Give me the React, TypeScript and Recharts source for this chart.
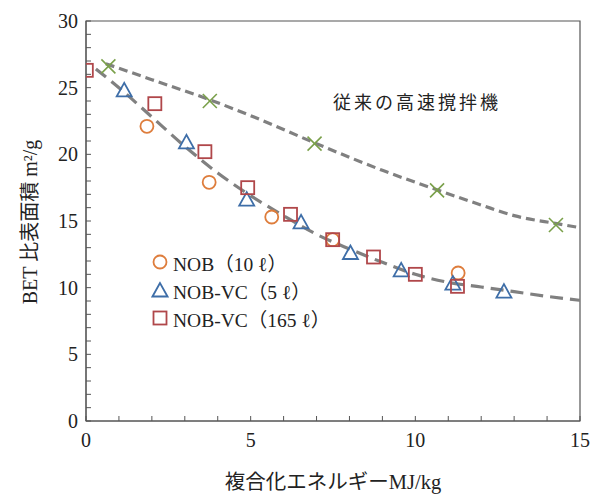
import { ComposedChart, Line, Scatter, XAxis, YAxis, ReferenceArea } from 'recharts';

// 従来の高速撹拌機 (×)
const conventional = [
  { x: 0.68, y: 26.6 },
  { x: 3.76, y: 24.0 },
  { x: 6.94, y: 20.8 },
  { x: 10.66, y: 17.3 },
  { x: 14.27, y: 14.7 },
];

// NOB (10 ℓ)
const nob10 = [
  { x: 1.85, y: 22.1 },
  { x: 3.74, y: 17.9 },
  { x: 5.64, y: 15.3 },
  { x: 7.49, y: 13.6 },
  { x: 11.3, y: 11.1 },
];

// NOB-VC (5 ℓ)
const nobVc5 = [
  { x: 1.16, y: 24.8 },
  { x: 3.05, y: 20.9 },
  { x: 4.88, y: 16.6 },
  { x: 6.53, y: 14.9 },
  { x: 8.03, y: 12.6 },
  { x: 9.57, y: 11.3 },
  { x: 11.14, y: 10.3 },
  { x: 12.69, y: 9.7 },
];

// NOB-VC (165 ℓ)
const nobVc165 = [
  { x: 0.01, y: 26.3 },
  { x: 2.09, y: 23.8 },
  { x: 3.61, y: 20.2 },
  { x: 4.91, y: 17.5 },
  { x: 6.21, y: 15.5 },
  { x: 7.49, y: 13.6 },
  { x: 8.73, y: 12.3 },
  { x: 10.0, y: 11.0 },
  { x: 11.28, y: 10.1 },
];

// dashed trend curves
const upperCurve = [
  { x: 0.6, y: 26.8 },
  { x: 2, y: 25.6 },
  { x: 3.75, y: 24.1 },
  { x: 5, y: 22.9 },
  { x: 7, y: 20.8 },
  { x: 9, y: 18.8 },
  { x: 10.7, y: 17.3 },
  { x: 12, y: 16.2 },
  { x: 13, y: 15.4 },
  { x: 14.3, y: 14.8 },
  { x: 15, y: 14.5 },
];

const lowerCurve = [
  { x: 0.3, y: 26.4 },
  { x: 1, y: 25.0 },
  { x: 2, y: 22.8 },
  { x: 3, y: 20.6 },
  { x: 4, y: 18.6 },
  { x: 5, y: 16.9 },
  { x: 6, y: 15.4 },
  { x: 7, y: 14.0 },
  { x: 8, y: 12.9 },
  { x: 9, y: 11.9 },
  { x: 10, y: 11.0 },
  { x: 11, y: 10.4 },
  { x: 12, y: 10.05 },
  { x: 13, y: 9.7 },
  { x: 14, y: 9.35 },
  { x: 15, y: 9.05 },
];

const xTicks = [0, 1, 2, 3, 4, 5, 6, 7, 8, 9, 10, 11, 12, 13, 14, 15];
const yTicks = [
  0, 1, 2, 3, 4, 5, 6, 7, 8, 9, 10, 11, 12, 13, 14, 15, 16, 17, 18, 19, 20, 21, 22, 23, 24, 25, 26, 27, 28, 29, 30,
];

const legendItems = [
  { label: 'NOB（10 ℓ）', shape: 'circle' },
  { label: 'NOB-VC（5 ℓ）', shape: 'triangle' },
  { label: 'NOB-VC（165 ℓ）', shape: 'square' },
];

const ORANGE = '#de7d3c';
const BLUE = '#3e6ea8';
const RED = '#b0474a';
const GREEN = '#7aa04a';
const AXIS = '#555';
const SERIF = '"Liberation Serif", "Noto Sans CJK JP", serif';

const CircleDot = (p: any) => (
  <circle cx={p.cx} cy={p.cy} r={6.5} fill="none" stroke={ORANGE} strokeWidth={1.8} />
);
const TriangleDot = (p: any) => (
  <polygon
    points={`${p.cx},${p.cy - 7.5} ${p.cx - 7.5},${p.cy + 6} ${p.cx + 7.5},${p.cy + 6}`}
    fill="none"
    stroke={BLUE}
    strokeWidth={1.8}
  />
);
const SquareDot = (p: any) => (
  <rect x={p.cx - 6.5} y={p.cy - 6.5} width={13} height={13} fill="none" stroke={RED} strokeWidth={1.8} />
);
const CrossDot = (p: any) => (
  <g stroke={GREEN} strokeWidth={1.6}>
    <line x1={p.cx - 7} y1={p.cy - 7} x2={p.cx + 7} y2={p.cy + 7} />
    <line x1={p.cx - 7} y1={p.cy + 7} x2={p.cx + 7} y2={p.cy - 7} />
  </g>
);

const XTick = ({ x, y, payload }: any) => (
  <g>
    <line x1={x} x2={x} y1={y} y2={y - 5} stroke={AXIS} />
    {payload.value % 5 === 0 && (
      <text x={x} y={y + 26} textAnchor="middle" fontSize={20} fontFamily={SERIF} fill="#222">
        {payload.value}
      </text>
    )}
  </g>
);

const YTick = ({ x, y, payload }: any) => (
  <g>
    <line x1={x} x2={x + 5} y1={y} y2={y} stroke={AXIS} />
    {payload.value % 5 === 0 && (
      <text x={x - 8} y={y + 7} textAnchor="end" fontSize={20} fontFamily={SERIF} fill="#222">
        {payload.value}
      </text>
    )}
  </g>
);

function LegendIcon({ shape }: { shape: string }) {
  return (
    <svg width={18} height={18} style={{ marginRight: 4 }}>
      {shape === 'circle' && <CircleDot cx={9} cy={9} />}
      {shape === 'triangle' && <TriangleDot cx={9} cy={9.5} />}
      {shape === 'square' && <SquareDot cx={9} cy={9} />}
    </svg>
  );
}

export default function App() {
  return (
    <div style={{ position: 'absolute', left: 0, top: 0, width: 592, height: 496, background: '#fff' }}>
      <ComposedChart width={592} height={496} margin={{ top: 21, right: 12, bottom: 0, left: 0 }}>
        <XAxis
          type="number"
          dataKey="x"
          domain={[0, 15]}
          ticks={xTicks}
          interval={0}
          tickSize={0}
          tickMargin={0}
          tickLine={false}
          tick={<XTick />}
          height={75}
          stroke={AXIS}
          allowDataOverflow
          label={{
            content: ({ viewBox }: any) => (
              <text
                x={viewBox.x + viewBox.width / 2}
                y={489}
                textAnchor="middle"
                fontSize={20.5}
                fontFamily={SERIF}
                fill="#222"
              >
                複合化エネルギーMJ/kg
              </text>
            ),
          }}
        />
        <YAxis
          type="number"
          dataKey="y"
          domain={[0, 30]}
          ticks={yTicks}
          interval={0}
          tickSize={0}
          tickMargin={0}
          tickLine={false}
          tick={<YTick />}
          width={86}
          stroke={AXIS}
          allowDataOverflow
          label={{
            content: ({ viewBox }: any) => {
              const cx = 30;
              const cy = viewBox.y + viewBox.height / 2 + 1;
              return (
                <text
                  x={cx}
                  y={cy}
                  transform={`rotate(-90 ${cx} ${cy})`}
                  textAnchor="middle"
                  dominantBaseline="central"
                  fontSize={20}
                  fontFamily={SERIF}
                  fill="#222"
                >
                  BET 比表面積 m²/g
                </text>
              );
            },
          }}
        />
        <ReferenceArea x1={0} x2={15} y1={0} y2={30} fill="none" stroke={AXIS} strokeWidth={1.2} />
        <Line
          data={upperCurve}
          dataKey="y"
          type="monotone"
          dot={false}
          stroke="#808080"
          strokeWidth={3.2}
          strokeDasharray="9 5"
          isAnimationActive={false}
        />
        <Line
          data={lowerCurve}
          dataKey="y"
          type="monotone"
          dot={false}
          stroke="#808080"
          strokeWidth={3.2}
          strokeDasharray="13 7"
          isAnimationActive={false}
        />
        <Scatter data={conventional} shape={<CrossDot />} isAnimationActive={false} />
        <Scatter data={nob10} shape={<CircleDot />} isAnimationActive={false} />
        <Scatter data={nobVc5} shape={<TriangleDot />} isAnimationActive={false} />
        <Scatter data={nobVc165} shape={<SquareDot />} isAnimationActive={false} />
      </ComposedChart>

      <div
        style={{
          position: 'absolute',
          left: 333,
          top: 89,
          fontFamily: '"Noto Sans CJK JP", sans-serif',
          fontSize: 18,
          letterSpacing: 3,
          color: '#222',
          lineHeight: '24px',
          whiteSpace: 'nowrap',
        }}
      >
        従来の高速撹拌機
      </div>

      <div style={{ position: 'absolute', left: 151, top: 248 }}>
        {legendItems.map((item) => (
          <div
            key={item.label}
            style={{
              display: 'flex',
              alignItems: 'center',
              height: 28,
              fontFamily: SERIF,
              fontSize: 19.5,
              color: '#222',
              whiteSpace: 'nowrap',
            }}
          >
            <LegendIcon shape={item.shape} />
            {item.label}
          </div>
        ))}
      </div>
    </div>
  );
}
